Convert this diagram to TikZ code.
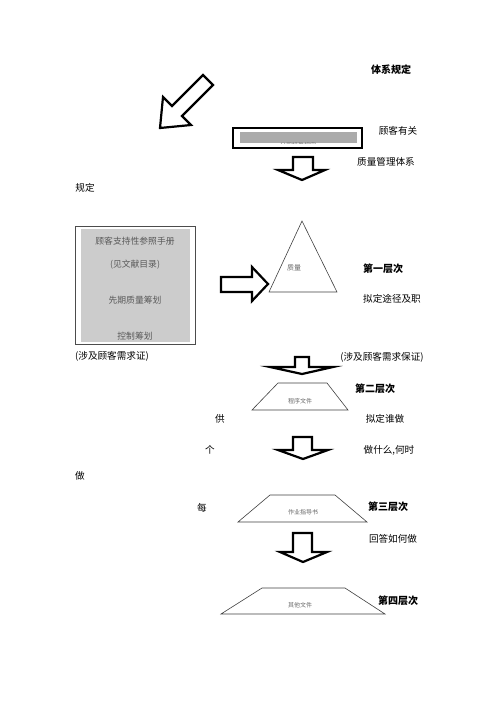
\documentclass[tikz,border=0pt]{standalone}
\usepackage{fontspec}
\newfontfamily\cjk{Noto Sans CJK SC}
\begin{document}
\begin{tikzpicture}[x=1pt,y=-1pt,
  lbl/.style={font=\cjk\fontsize{9.6}{11}\selectfont, text=black, inner sep=0pt},
  blbl/.style={font=\cjk\bfseries\fontsize{10}{12}\selectfont, text=black, inner sep=0pt},
  gtxt/.style={font=\cjk\fontsize{8.8}{10}\selectfont, text=black!65, inner sep=0pt},
  stxt/.style={font=\cjk\fontsize{6}{7}\selectfont, text=black!60, inner sep=0pt},
  harrow/.style={draw=black, fill=white, line width=2.2pt, line join=miter},
  outl/.style={draw=black!75, fill=white, line width=0.6pt}]
\useasboundingbox (0,0) rectangle (500,707);
% diagonal arrow
\draw[harrow] (160,128) -- (191,125) -- (182,116) -- (213,85) -- (203,75) -- (172,106) -- (163,97) -- cycle;
% top bar
\draw[black, line width=1.6pt] (233,128) rectangle (362,148);
\fill[black!33] (240,132) rectangle (357,143);
\begin{scope}
\clip (240,132) rectangle (357,143);
\node[stxt, text=black!55] (bartxt) at (298,145) {公司特殊规定};
\end{scope}
% down arrow 1
\draw[harrow] (293,157) -- (313,157) -- (313,170) -- (325,170) -- (302,180) -- (278,170) -- (293,170) -- cycle;
% left box
\draw[black!70, line width=0.8pt] (75,226) rectangle (195,344);
\fill[black!20] (81,229) rectangle (190,342);
\node[gtxt] (b1) at (135,241) {顾客支持性参照手册};
\node[gtxt] (b2) at (135,265) {(见文献目录)};
\node[gtxt] (b3) at (135,300) {先期质量筹划};
\node[gtxt] (b4) at (135,336) {控制筹划};
% right arrow
\draw[harrow] (221,277) -- (252,277) -- (252,267) -- (268,284) -- (252,301) -- (252,292) -- (221,292) -- cycle;
% triangle
\draw[outl] (302,221) -- (337,292) -- (269,292) -- cycle;
\node[stxt, font=\cjk\fontsize{7}{8}\selectfont] (tri) at (294,268) {质量};
% down arrow 2
\draw[harrow] (295,357) -- (309,357) -- (309,367) -- (333,367) -- (302,374) -- (270,367) -- (295,367) -- cycle;
% trapezoid 2
\draw[outl] (278,383) -- (327,383) -- (348,410) -- (252,410) -- cycle;
\node[stxt] (t2) at (300,401) {程序文件};
% down arrow 3
\draw[harrow] (293,437) -- (312,437) -- (312,450) -- (328,450) -- (303,459) -- (278,450) -- (293,450) -- cycle;
% trapezoid 3
\draw[outl] (270,495) -- (335,495) -- (367,522) -- (238,522) -- cycle;
\node[stxt] (t3) at (303,512) {作业指导书};
% down arrow 4
\draw[harrow] (293,533) -- (312,533) -- (312,552) -- (327,552) -- (303,562) -- (280,552) -- (293,552) -- cycle;
% trapezoid 4
\draw[outl] (262,588) -- (345,588) -- (385,614) -- (221,614) -- cycle;
\node[stxt] (t4) at (300,605) {其他文件};
% labels
\node[blbl] (l1) at (391,70) {体系规定};
\node[lbl] (l2) at (398,131) {顾客有关};
\node[lbl] (l3) at (386,162) {质量管理体系};
\node[lbl] (l4) at (85,188) {规定};
\node[blbl] (l5) at (383,269) {第一层次};
\node[lbl] (l6) at (392,299) {拟定途径及职};
\node[lbl] (l7) at (112,356) {(涉及顾客需求证)};
\node[lbl] (l8) at (382,357) {(涉及顾客需求保证)};
\node[blbl] (l9) at (375,389) {第二层次};
\node[lbl] (l10) at (220,419) {供};
\node[lbl] (l11) at (385,419) {拟定谁做};
\node[lbl] (l12) at (210,450) {个};
\node[lbl] (l13) at (389,450) {做什么,何时};
\node[lbl] (l14) at (80,476) {做};
\node[lbl] (l15) at (202,508) {每};
\node[blbl] (l16) at (388,507) {第三层次};
\node[lbl] (l17) at (393,539) {回答如何做};
\node[blbl] (l18) at (398,601) {第四层次};
\end{tikzpicture}
\end{document}
